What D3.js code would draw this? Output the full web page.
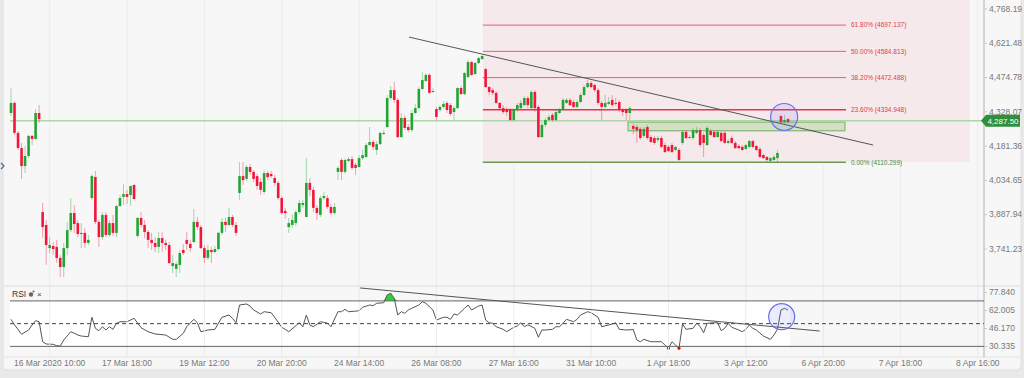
<!DOCTYPE html>
<html>
<head>
<meta charset="utf-8">
<script src="https://cdn.jsdelivr.net/npm/d3@7"></script>
<style>
  body { margin: 0; background: #e9e9e9; font-family: "Liberation Sans", Arial, sans-serif; }
</style>
</head>
<body>
<svg id="chart" width="1024" height="378"></svg>
<script>
// ---- data (index = candle number) ----
const opens = [4321,4364,4236,4171,4094,4137,4223,4210,4321,
  3897,3842,3743,3752,3748,3701,3662,3743,3820,3893,3850,3803,3808,3765,3957,4047,3855,3790,3885,3799,3850,3808,3923,3962,3974,3970,4013,3795,3872,3842,3812,3778,3765,3748,3786,3765,3756,3666,3654,3671,3735,3778,3761,3769,3855,3833,3743,3701,3735,3726,3739,3808,3855,3842,3876,3842,
  3979,4051,4039,4090,4069,4051,4026,3983,4064,4060,4043,4022,3957,3902,3833,3842,3850,3897,3927,3876,4022,3992,3915,3885,3957,3957,3919,3893,
  4069,4120,4069,4116,4124,4099,4090,4128,4133,4184,4197,4163,4188,4231,4261,4385,4419,4377,4218,4300,4261,4248,4321,4342,4424,4458,4484,4411,
  4338,4334,4347,4364,4355,4325,4342,4428,4402,4475,4539,4488,4535,4552,
  4509,4432,4419,4407,4364,4342,4334,4334,4291,4334,4342,4355,4385,4342,4411,4347,4218,4270,4291,4313,4291,4321,4334,4364,4377,4368,4347,4368,4398,4432,4449,4441,4419,4364,4347,4360,4377,4364,4368,4334,4334,4321,
  4265,4261,4253,4223,4261,4218,4214,4206,4214,4184,4176,4184,4163,4163,4193,4240,4214,4214,4236,4248,4227,4184,4244,4240,4218,4236,4236,4193,4214,4193,4180,4176,4167,4176,4201,4180,4167,4141,4133,4116,4120,4128,
  4308,4283,4295];
const highs = [4428,4372,4244,4193,4180,4227,4227,4338,4355,
  3936,3863,3790,3769,3778,3713,3765,3855,3957,3927,3863,3850,3829,3799,4060,4073,3863,3897,3897,3863,3885,3927,3970,4017,3992,4009,4017,3876,3897,3863,3820,3808,3790,3812,3812,3778,3769,3713,3684,3735,3761,3812,3778,3910,3876,3842,3756,3756,3748,3752,3812,3872,3872,3915,3885,3855,
  4111,4111,4099,4103,4077,4060,4043,4077,4073,4073,4056,4030,3966,3915,3872,3889,3906,3949,3949,4128,4043,4004,3927,3966,3983,3970,3932,3936,
  4094,4128,4128,4133,4137,4107,4141,4163,4193,4261,4206,4201,4240,4248,4398,4437,4454,4385,4321,4313,4274,4334,4360,4432,4496,4492,4492,4428,
  4347,4355,4372,4372,4364,4351,4432,4437,4496,4548,4544,4539,4561,4569,
  4514,4437,4428,4415,4368,4355,4347,4342,4342,4364,4377,4394,4394,4419,4419,4355,4283,4300,4313,4321,4334,4342,4385,4385,4385,4377,4377,4407,4441,4462,4458,4445,4428,4372,4398,4390,4398,4385,4377,4342,4342,4351,
  4274,4270,4261,4261,4270,4227,4223,4223,4223,4193,4184,4193,4180,4171,4248,4248,4227,4257,4261,4257,4236,4265,4253,4248,4248,4244,4244,4210,4223,4201,4188,4184,4188,4206,4206,4184,4176,4146,4137,4133,4141,4163,
  4313,4313,4300];
const lows = [4308,4227,4163,4039,4064,4128,4184,4206,4278,
  3786,3671,3722,3713,3679,3619,3619,3713,3812,3808,3790,3743,3743,3756,3949,3846,3748,3778,3790,3790,3795,3790,3919,3927,3932,3923,3949,3786,3833,3786,3743,3735,3726,3722,3726,3735,3675,3636,3619,3636,3713,3735,3726,3765,3820,3739,3679,3692,3679,3722,3731,3799,3812,3838,3833,3795,
  3949,4013,4030,4056,4026,3992,3970,3974,4034,4043,4009,3949,3885,3868,3808,3829,3838,3889,3915,3876,3966,3897,3863,3876,3949,3910,3885,3885,
  4034,4034,4060,4111,4077,4056,4086,4120,4128,4180,4163,4141,4184,4227,4257,4377,4364,4214,4214,4248,4240,4240,4317,4338,4419,4454,4402,4407,
  4291,4325,4342,4321,4308,4291,4338,4398,4398,4471,4479,4484,4531,4548,
  4428,4398,4398,4360,4334,4317,4308,4287,4287,4325,4338,4351,4342,4334,4325,4214,4214,4261,4287,4283,4287,4317,4330,4360,4351,4342,4342,4364,4394,4428,4428,4411,4355,4291,4342,4355,4347,4351,4325,4308,4291,4291,
  4231,4193,4206,4214,4206,4193,4184,4197,4171,4150,4154,4150,4158,4116,4184,4210,4210,4206,4231,4176,4133,4180,4223,4214,4214,4197,4188,4188,4188,4167,4167,4158,4163,4171,4171,4158,4128,4124,4111,4107,4116,4107,
  4274,4274,4278];
const closes = [4364,4236,4171,4094,4137,4223,4210,4321,4295,
  3833,3756,3756,3739,3701,3662,3743,3820,3893,3846,3803,3808,3765,3778,4051,3855,3790,3885,3799,3850,3808,3923,3957,3974,3962,4009,3953,3872,3842,3812,3778,3765,3748,3786,3765,3756,3679,3679,3675,3722,3722,3761,3743,3855,3833,3743,3701,3735,3726,3739,3808,3855,3842,3876,3842,3808,
  4051,4034,4090,4069,4039,4009,3992,4064,4047,4051,4022,3957,3893,3893,3850,3863,3897,3936,3936,4022,3992,3915,3893,3957,3966,3919,3893,3919,
  4086,4069,4120,4124,4086,4086,4128,4141,4184,4197,4176,4188,4236,4236,4385,4419,4377,4218,4300,4257,4248,4321,4342,4424,4462,4484,4407,4415,
  4304,4347,4360,4334,4317,4342,4428,4402,4492,4539,4484,4535,4556,4565,
  4432,4411,4407,4364,4342,4325,4325,4291,4334,4355,4364,4385,4355,4411,4342,4218,4270,4291,4304,4291,4325,4334,4377,4377,4355,4347,4368,4398,4432,4449,4432,4419,4364,4347,4364,4368,4355,4360,4334,4325,4321,4342,
  4253,4248,4214,4253,4214,4197,4193,4214,4176,4154,4158,4154,4176,4120,4240,4214,4218,4248,4248,4184,4193,4257,4227,4218,4240,4201,4193,4201,4193,4171,4171,4163,4184,4201,4176,4163,4133,4128,4120,4128,4133,4150,
  4283,4291,4283];

// RSI(14) line: [candle index, value]
const rsiSeries = [[0,53.8],[1,48.8],[2,45.0],[3,40.6],[5,44.4],[6,48.8],[7,52.6],[8,51.7],[9,34.1],[10,32.1],[12,31.8],[13,30.6],[14,30.2],[15,35.6],[17,42.9],[18,41.5],[19,40.0],[20,39.1],[22,38.5],[23,55.6],[24,45.9],[25,43.8],[26,47.3],[27,44.4],[28,47.3],[29,45.0],[30,50.3],[31,51.7],[33,51.7],[35,54.7],[37,46.4],[39,42.9],[41,40.9],[44,40.0],[46,36.2],[47,36.2],[49,41.5],[50,47.3],[52,53.8],[53,50.8],[54,42.9],[56,44.4],[58,45.0],[60,55.6],[62,57.6],[63,54.7],[64,50.8],[65,66.4],[67,67.3],[68,65.5],[69,62.0],[71,58.5],[72,60.5],[74,59.6],[75,55.6],[77,46.8],[78,45.0],[79,42.9],[82,50.8],[83,47.3],[84,57.6],[85,48.8],[86,47.3],[88,51.7],[90,50.5],[91,47.3],[93,60.5],[94,60.5],[95,62.6],[96,60.5],[98,61.0],[99,61.4],[100,64.4],[102,66.4],[103,65.8],[104,67.9],[106,68.4],[107,75.2],[108,76.7],[109,72.3],[110,57.6],[111,60.5],[112,59.1],[113,62.0],[114,63.5],[116,66.4],[117,69.3],[118,67.9],[120,62.0],[121,53.2],[123,55.6],[124,55.6],[125,53.8],[126,58.5],[127,57.6],[129,63.5],[130,66.4],[131,62.0],[133,65.5],[134,66.4],[135,53.2],[136,50.8],[137,50.3],[138,47.3],[140,45.0],[141,42.9],[143,46.8],[144,47.9],[145,50.8],[146,47.3],[147,49.0],[149,45.9],[150,38.0],[151,44.4],[152,44.4],[154,45.0],[155,47.3],[156,47.3],[157,50.3],[158,53.8],[160,51.7],[161,53.8],[162,57.6],[164,60.5],[165,59.6],[167,55.6],[168,47.3],[170,48.8],[171,49.7],[172,50.8],[173,45.0],[175,44.4],[177,44.8],[178,35.6],[179,34.1],[180,36.2],[182,34.1],[183,34.1],[185,34.1],[186,31.2],[187,28.3],[188,34.1],[189,31.2],[190,28.3],[191,49.7],[192,45.0],[194,45.9],[195,50.3],[196,47.5],[197,42.0],[198,50.3],[200,50.8],[201,50.8],[202,43.8],[203,45.9],[204,50.3],[205,46.8],[207,44.4],[208,42.9],[209,45.0],[210,48.8],[211,45.9],[212,44.4],[214,39.1],[216,36.2],[217,40.0],[218,45.0],[219,62.0],[220,63.5],[221,62.0]];

const xLabels = ['16 Mar 2020 10:00','17 Mar 18:00','19 Mar 12:00','20 Mar 20:00','24 Mar 14:00','26 Mar 08:00','27 Mar 16:00','31 Mar 10:00','1 Apr 18:00','3 Apr 12:00','6 Apr 20:00','7 Apr 18:00','8 Apr 16:00'];
const xLabelIdx = [11,33,55,77,99,121,143,165,187,209,231,253,275];
const priceTicks = [4768.19,4621.48,4474.78,4328.07,4181.36,4034.65,3887.94,3741.23];
const rsiTicks = [77.84,62.005,46.17,30.335];
const rsiLevels = [70, 50, 30];
const lastPrice = 4287.50;

// fibonacci drawn from the high (idx 134) to the low
const fibNames = ['61.80%','50.00%','38.20%','23.60%','0.00%'];
const fibPrices = [4697.137,4584.813,4472.488,4334.948,4110.299];
const fibIdx = [134.2, 237.5, 272.7];           // start, line end, shaded end
const zoneIdx = [175.5, 237.2];                  // support box
const zonePrices = [4282, 4245];
const trendPrice = [[113.2, 4646], [245.2, 4184]];
const trendRsi = [[99.3, 81.4], [230, 43.5]];
const circlePrice = [219.9, 4304];
const circleRsi = [219.2, 56.1];

// ---- layout ----
const svg = d3.select('#chart');
const axisX = 984, mainTop = 0, mainBottom = 286, rsiTop = 287, rsiBottom = 357;

const x = d3.scaleLinear().domain([0, 221]).range([11, 788]);
const y = d3.scaleLinear().domain([3741.23, 4768.19]).range([248.5, 8.5]);
const yR = d3.scaleLinear().domain([30.335, 77.84]).range([346, 292]);

// card
svg.append('rect').attr('x', 3).attr('y', -6).attr('width', 1018).attr('height', 376)
  .attr('rx', 5).attr('fill', '#f7f7f7').attr('stroke', '#e0e0e0');

const defs = svg.append('defs');
defs.append('clipPath').attr('id', 'clipMain').append('rect')
  .attr('x', 4).attr('y', mainTop).attr('width', axisX - 4).attr('height', mainBottom - mainTop);
defs.append('clipPath').attr('id', 'clipRsi').append('rect')
  .attr('x', 4).attr('y', rsiTop).attr('width', axisX - 4).attr('height', rsiBottom - rsiTop);

// vertical grid
svg.append('g').selectAll('line').data(xLabelIdx).join('line')
  .attr('x1', d => x(d)).attr('x2', d => x(d))
  .attr('y1', 0).attr('y2', rsiBottom)
  .attr('stroke', '#ececec');

const main = svg.append('g').attr('clip-path', 'url(#clipMain)');

// fib shade
main.append('rect')
  .attr('x', x(fibIdx[0])).attr('width', x(fibIdx[2]) - x(fibIdx[0]))
  .attr('y', mainTop).attr('height', y(fibPrices[4]) - mainTop)
  .attr('fill', '#f6e9eb');

// support zone
main.append('rect')
  .attr('x', x(zoneIdx[0])).attr('width', x(zoneIdx[1]) - x(zoneIdx[0]))
  .attr('y', y(zonePrices[0])).attr('height', y(zonePrices[1]) - y(zonePrices[0]))
  .attr('fill', 'rgba(150,205,130,0.35)').attr('stroke', '#80b970').attr('stroke-width', 1.2);

// last price line
main.append('line').attr('x1', 10).attr('x2', axisX)
  .attr('y1', y(lastPrice)).attr('y2', y(lastPrice))
  .attr('stroke', '#acd8a5').attr('stroke-width', 1.5);

// fib lines + labels
fibPrices.forEach((p, i) => {
  const zero = i === fibPrices.length - 1;
  const key = fibNames[i] === '23.60%';
  main.append('line')
    .attr('x1', x(fibIdx[0])).attr('x2', x(fibIdx[1]))
    .attr('y1', y(p)).attr('y2', y(p))
    .attr('stroke', zero ? '#6b9b52' : (key ? '#e2374a' : '#e4606d'))
    .attr('stroke-width', zero ? 1.5 : (key ? 1.6 : 1));
  main.append('text')
    .attr('x', x(fibIdx[1]) + 5).attr('y', y(p)).attr('dy', '0.35em')
    .attr('font-size', 6.5).attr('fill', zero ? '#4f8a3c' : '#d9414f')
    .text(`${fibNames[i]} (${p.toFixed(3)})`);
});

// candles
const candles = opens.map((o, i) => ({ i, o, h: highs[i], l: lows[i], c: closes[i] }));
const up = '#23a534', down = '#f2173a';
const cg = main.append('g');
cg.selectAll('line').data(candles).join('line')
  .attr('x1', d => x(d.i)).attr('x2', d => x(d.i))
  .attr('y1', d => y(d.h)).attr('y2', d => y(d.l))
  .attr('stroke', d => d.c >= d.o ? up : down).attr('stroke-opacity', 0.4);
cg.selectAll('rect').data(candles).join('rect')
  .attr('x', d => x(d.i) - 1.3).attr('width', 2.6)
  .attr('y', d => y(Math.max(d.o, d.c)))
  .attr('height', d => Math.max(1, Math.abs(y(d.o) - y(d.c))))
  .attr('fill', d => d.c >= d.o ? up : down);

// trend line + circle
main.append('line')
  .attr('x1', x(trendPrice[0][0])).attr('y1', y(trendPrice[0][1]))
  .attr('x2', x(trendPrice[1][0])).attr('y2', y(trendPrice[1][1]))
  .attr('stroke', '#555').attr('stroke-width', 1);
main.append('circle')
  .attr('cx', x(circlePrice[0])).attr('cy', y(circlePrice[1])).attr('r', 13.5)
  .attr('fill', 'rgba(110,110,255,0.13)').attr('stroke', '#6c6cf2').attr('stroke-width', 1.2);

// panel separators
svg.append('line').attr('x1', 4).attr('x2', 1020).attr('y1', mainBottom).attr('y2', mainBottom).attr('stroke', '#dcdcdc');
svg.append('line').attr('x1', 4).attr('x2', 1020).attr('y1', rsiBottom).attr('y2', rsiBottom).attr('stroke', '#e2e2e2');
svg.append('line').attr('x1', axisX).attr('x2', axisX).attr('y1', 0).attr('y2', rsiBottom).attr('stroke', '#c8c8c8').attr('stroke-width', 1.5);

// price axis
const yAxis = svg.append('g').attr('transform', `translate(${axisX},0)`)
  .call(d3.axisRight(y).tickValues(priceTicks).tickFormat(d3.format(',.2f')).tickSize(3).tickPadding(2));
yAxis.select('.domain').remove();
yAxis.selectAll('line').attr('stroke', '#c8c8c8');
yAxis.selectAll('text').attr('font-size', 8.5).attr('fill', '#777').attr('font-family', '"Liberation Sans", Arial, sans-serif');

// last price tag
const ly = y(lastPrice);
svg.append('path')
  .attr('d', `M${axisX - 3},${ly} L${axisX + 2},${ly - 6} L${axisX + 36},${ly - 6} L${axisX + 36},${ly + 6} L${axisX + 2},${ly + 6} Z`)
  .attr('fill', '#2f8f3c');
svg.append('text').attr('x', axisX + 19).attr('y', ly).attr('dy', '0.35em')
  .attr('text-anchor', 'middle').attr('font-size', 8).attr('fill', '#fff').text(d3.format(',.2f')(lastPrice));

// ---- RSI panel ----
const rsi = svg.append('g').attr('clip-path', 'url(#clipRsi)');
rsi.append('rect').attr('x', x(0) - 1).attr('width', x(221) - x(0) + 3)
  .attr('y', yR(70)).attr('height', yR(30) - yR(70)).attr('fill', '#fff');
svg.append('g').selectAll('line').data(xLabelIdx).join('line')
  .attr('x1', d => x(d)).attr('x2', d => x(d))
  .attr('y1', rsiTop).attr('y2', rsiBottom).attr('stroke', '#ececec');

rsiLevels.forEach(v => {
  svg.append('line').attr('x1', 10).attr('x2', axisX)
    .attr('y1', yR(v)).attr('y2', yR(v))
    .attr('stroke', v === 50 ? '#444' : '#666').attr('stroke-width', 1)
    .attr('stroke-dasharray', v === 50 ? '4,3' : null);
});

rsi.append('path').datum(rsiSeries)
  .attr('d', d3.area().x(d => x(d[0])).y0(yR(70)).y1(d => yR(Math.max(70, d[1]))))
  .attr('fill', '#2fd12f');
rsi.append('path').datum(rsiSeries)
  .attr('d', d3.line().x(d => x(d[0])).y(d => yR(d[1])))
  .attr('fill', 'none').attr('stroke', '#555').attr('stroke-width', 1);
rsi.selectAll('circle.os').data(rsiSeries.filter(d => d[1] < 30)).join('circle')
  .attr('class', 'os').attr('cx', d => x(d[0])).attr('cy', d => yR(d[1])).attr('r', 1.5).attr('fill', '#c81010');

svg.append('line')
  .attr('x1', x(trendRsi[0][0])).attr('y1', yR(trendRsi[0][1]))
  .attr('x2', x(trendRsi[1][0])).attr('y2', yR(trendRsi[1][1]))
  .attr('stroke', '#555').attr('stroke-width', 1);
svg.append('circle')
  .attr('cx', x(circleRsi[0])).attr('cy', yR(circleRsi[1])).attr('r', 13)
  .attr('fill', 'rgba(110,110,255,0.13)').attr('stroke', '#6c6cf2').attr('stroke-width', 1.2);

// RSI title
svg.append('text').attr('x', 12).attr('y', 297).attr('font-size', 8.5).attr('fill', '#333').text('RSI');
svg.append('circle').attr('cx', 31).attr('cy', 294.5).attr('r', 2.2).attr('fill', '#666');
svg.append('circle').attr('cx', 33.5).attr('cy', 291.5).attr('r', 1).attr('fill', '#666');
svg.append('text').attr('x', 37).attr('y', 297).attr('font-size', 8).attr('fill', '#444').text('×');

const rAxis = svg.append('g').attr('transform', `translate(${axisX},0)`)
  .call(d3.axisRight(yR).tickValues(rsiTicks).tickFormat(d3.format('.3f')).tickSize(3).tickPadding(2));
rAxis.select('.domain').remove();
rAxis.selectAll('line').attr('stroke', '#c8c8c8');
rAxis.selectAll('text').attr('font-size', 8.5).attr('fill', '#777').attr('font-family', '"Liberation Sans", Arial, sans-serif');

// time labels
svg.append('g').selectAll('text').data(xLabelIdx).join('text')
  .attr('x', d => x(d)).attr('y', 363).attr('dy', '0.35em')
  .attr('text-anchor', 'middle').attr('font-size', 8.5).attr('fill', '#777')
  .text((d, i) => xLabels[i]);

// small collapse marker on the left edge
svg.append('path').attr('d', 'M1,163 L4,166 L1,169').attr('fill', 'none').attr('stroke', '#4a6a8a').attr('stroke-width', 1.2);
</script>
</body>
</html>
